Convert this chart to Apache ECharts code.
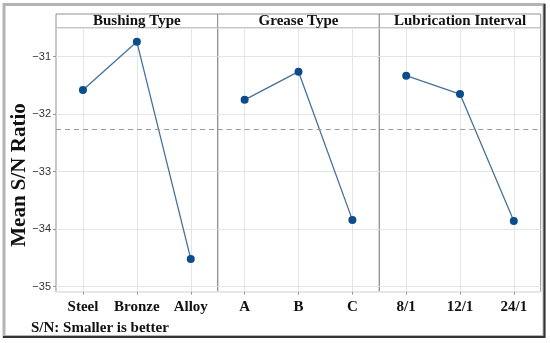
<!DOCTYPE html>
<html>
<head>
<meta charset="utf-8">
<script src="https://cdn.jsdelivr.net/npm/echarts@6/dist/echarts.min.js"></script>
<style>html,body{margin:0;padding:0;background:#fff}#c{width:550px;height:343px}</style>
</head>
<body>
<div id="c"></div>
<script>
// ---- data ----
const panelTitles = ['Bushing Type', 'Grease Type', 'Lubrication Interval'];
const bushingCats = ['Steel', 'Bronze', 'Alloy'];
const bushingVals = [-31.58, -30.74, -34.52];
const greaseCats = ['A', 'B', 'C'];
const greaseVals = [-31.75, -31.26, -33.84];
const lubCats = ['8/1', '12/1', '24/1'];
const lubVals = [-31.33, -31.65, -33.86];
const overallMean = -32.26;
const yMin = -35.09, yMax = -30.5;
const yTitle = 'Mean S/N Ratio';
const footnote = 'S/N: Smaller is better';

const cats = [bushingCats, greaseCats, lubCats];
const vals = [bushingVals, greaseVals, lubVals];

// ---- layout ----
const lefts = [56, 217.7, 379.3];
const widths = [161.7, 161.6, 161.4];
const gridTop = 28, gridHeight = 263.7;
const serif = '"Liberation Serif","Times New Roman",serif';

const chart = echarts.init(document.getElementById('c'));
const grids = [], xAxes = [], yAxes = [], series = [], graphics = [];

for (let i = 0; i < 3; i++) {
  grids.push({left: lefts[i], top: gridTop, width: widths[i], height: gridHeight,
    show: true, borderColor: '#8f8f8f', borderWidth: 1, backgroundColor: 'transparent'});
  xAxes.push({type: 'category', gridIndex: i, data: cats[i], boundaryGap: true,
    axisLine: {show: false},
    axisTick: {show: true, alignWithLabel: true, length: 3, lineStyle: {color: '#999'}},
    splitLine: {show: true, alignWithLabel: true, lineStyle: {color: '#e4e4e4', width: 1}},
    axisLabel: {interval: 0, hideOverlap: false, color: '#111', fontFamily: serif, fontWeight: 'bold', fontSize: 15, margin: 8}});
  yAxes.push({type: 'value', gridIndex: i, min: yMin, max: yMax,
    axisLine: {show: false},
    axisTick: {show: i === 0, length: 3, lineStyle: {color: '#999'}},
    splitLine: {show: true, lineStyle: {color: '#e4e4e4', width: 1}},
    axisLabel: {show: i === 0, showMinLabel: false, showMaxLabel: false, color: '#333',
      fontFamily: '"Liberation Sans",Arial,sans-serif', fontSize: 11, margin: 5,
      formatter: v => (Math.abs(v - Math.round(v)) < 1e-6 ? String(Math.round(v)).replace('-', '\u2212') : '')}});
  series.push({type: 'line', xAxisIndex: i, yAxisIndex: i, data: vals[i],
    symbol: 'circle', symbolSize: 8, silent: true,
    lineStyle: {color: '#46729a', width: 1.3},
    itemStyle: {color: '#0b4d8b'},
    markLine: {silent: true, symbol: 'none', label: {show: false},
      lineStyle: {color: '#9a9a9a', type: [5, 4], width: 1},
      data: [{yAxis: overallMean}]}});
  graphics.push({type: 'rect', shape: {x: lefts[i], y: 14, width: widths[i], height: 14},
    style: {fill: '#fff', stroke: '#8f8f8f', lineWidth: 1}});
  graphics.push({type: 'text', x: lefts[i] + widths[i] / 2, y: 21.5,
    style: {text: panelTitles[i], fill: '#111', font: 'bold 15px ' + serif,
      align: 'center', verticalAlign: 'middle'}});
}

// y title
graphics.push({type: 'text', x: 20, y: 175, rotation: Math.PI / 2,
  style: {text: yTitle, fill: '#111', font: 'bold 21px ' + serif, align: 'center', verticalAlign: 'middle'}});

// outer frame
graphics.push({type: 'rect', shape: {x: 4, y: 4.5, width: 540, height: 332},
  style: {fill: 'none', stroke: '#b4b4b4', lineWidth: 3}});
graphics.push({type: 'polyline', shape: {points: [[544.5, 4], [544.5, 337], [3, 337]]},
  style: {fill: 'none', stroke: '#333', lineWidth: 2}});
graphics.push({type: 'text', x: 31, y: 328,
  style: {text: footnote, fill: '#111', font: 'bold 15px ' + serif, align: 'left', verticalAlign: 'middle'}});

chart.setOption({
  animation: false,
  backgroundColor: '#fff',
  grid: grids, xAxis: xAxes, yAxis: yAxes, series: series, graphic: graphics
});
</script>
</body>
</html>
